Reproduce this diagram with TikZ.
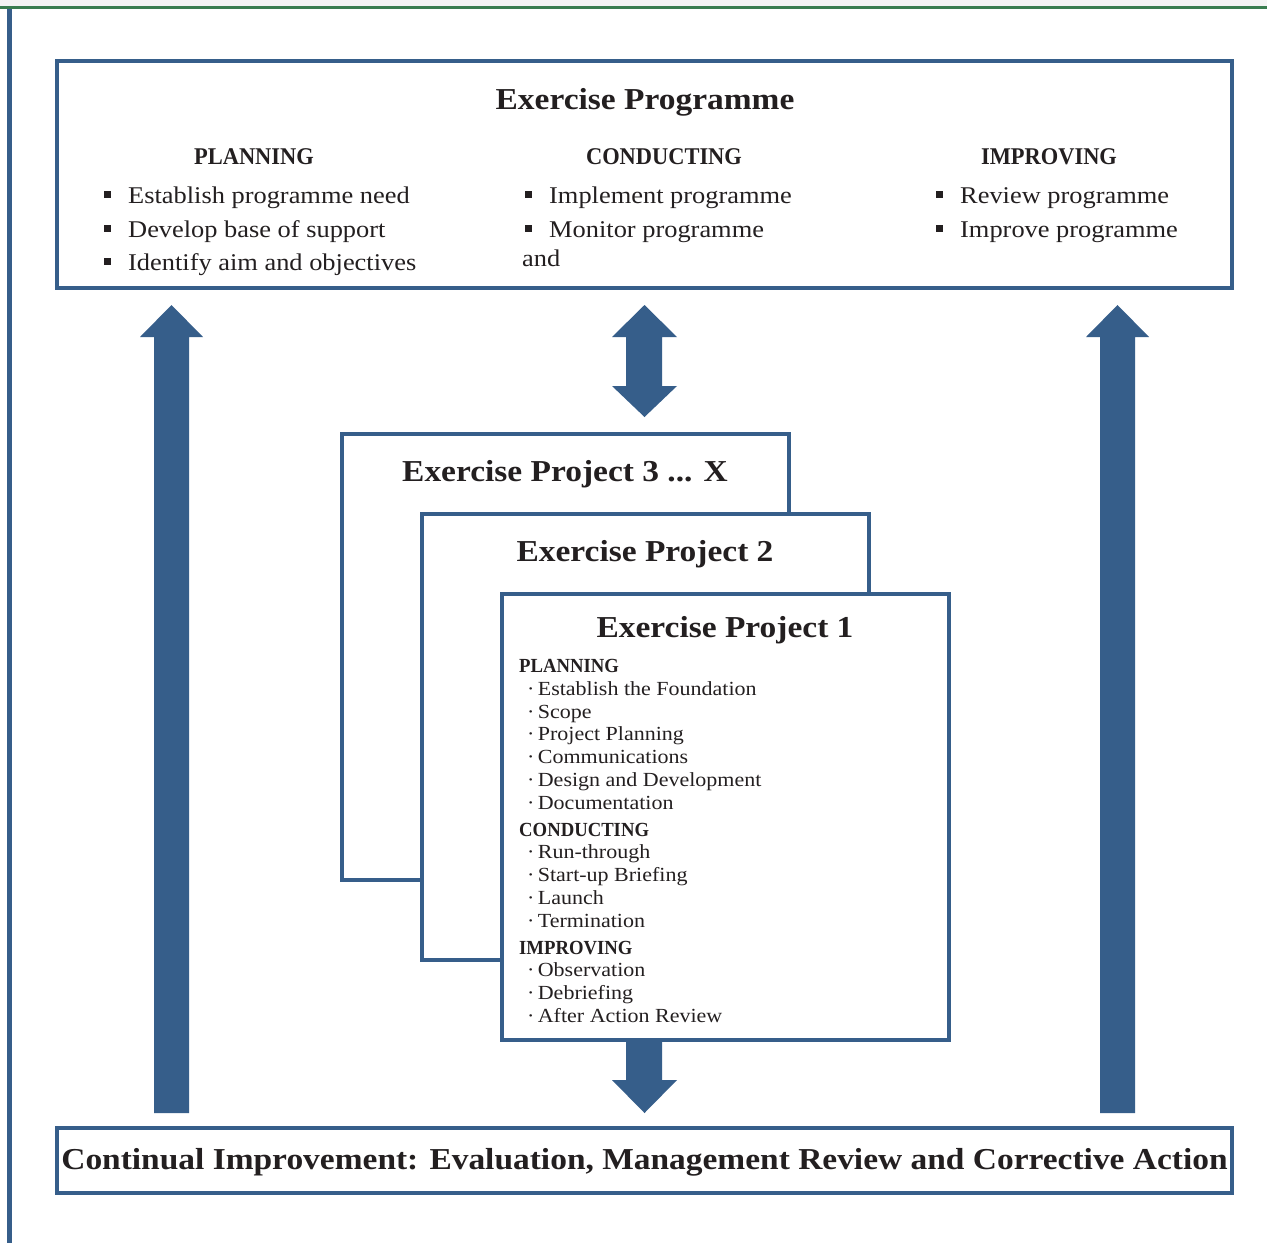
\documentclass[tikz,border=0pt]{standalone}
\usepackage{fontspec}
\usepackage{graphicx}
\setmainfont{Liberation Serif}[FakeStretch=1.1]
\definecolor{frame}{RGB}{54,94,138}
\definecolor{topgreen}{RGB}{58,125,80}
\definecolor{ink}{RGB}{35,31,32}
\definecolor{strip}{RGB}{244,244,244}
\newcommand{\bsq}{\rule[5.5pt]{7pt}{7pt}\hspace{17pt}}
\newcommand{\narrowcaps}[1]{\scalebox{0.85}[1]{#1}}
\begin{document}
\begin{tikzpicture}[x=1pt,y=-1pt,
  panel/.style={draw=frame, line width=4pt, fill=white, rectangle, inner sep=0pt},
  txt/.style={inner sep=0pt, anchor=base west, text=ink},
  bigtitle/.style={txt, anchor=base, font=\fontsize{30.4}{34}\selectfont\bfseries},
  colhead/.style={txt, anchor=base, font=\fontsize{24}{28}\selectfont\bfseries},
  item/.style={txt, font=\fontsize{24}{28}\selectfont},
  subhead/.style={txt, font=\fontsize{20}{24}\selectfont\bfseries},
  sub/.style={txt, font=\fontsize{20}{23}\selectfont},
  blockarrow/.style={fill=frame}
]
\useasboundingbox (0,0) rectangle (1267,1243);
\fill[white] (0,0) rectangle (1267,1243);
\fill[strip] (0,0) rectangle (1267,6);
\draw[topgreen, line width=3.3pt] (0,7.7) -- (1267,7.7);
\draw[frame, line width=4.5pt] (9.7,9.3) -- (9.7,1243);

% Programme box
\node[panel, minimum width=1175pt, minimum height=227pt] (prog) at (644.5,174.5) {};
\node[bigtitle] (progtitle) at (645,109) {Exercise Programme};
\node[colhead] (hplan) at (254,164.5) {\narrowcaps{PLANNING}};
\node[colhead] (hcond) at (664,164.5) {\narrowcaps{CONDUCTING}};
\node[colhead] (himp) at (1049,164.5) {\narrowcaps{IMPROVING}};
\node[item] (p1) at (104,203) {\bsq Establish programme need};
\node[item] (p2) at (104,237) {\bsq Develop base of support};
\node[item] (p3) at (104,270) {\bsq Identify aim and objectives};
\node[item] (c1) at (525,203) {\bsq Implement programme};
\node[item] (c2) at (525,237) {\bsq Monitor programme};
\node[item] (c3) at (522,266) {and};
\node[item] (i1) at (936,203) {\bsq Review programme};
\node[item] (i2) at (936,237) {\bsq Improve programme};

% Arrows
\fill[blockarrow] (154,1113) -- (154,337) -- (140,337) -- (171.5,305) -- (203,337) -- (189,337) -- (189,1113) -- cycle;
\fill[blockarrow] (1100,1113) -- (1100,337) -- (1086,337) -- (1117.5,305) -- (1149,337) -- (1135,337) -- (1135,1113) -- cycle;
\fill[blockarrow] (626,337) -- (612,337) -- (644.5,305) -- (677,337) -- (662,337) -- (662,386) -- (677,386) -- (644.5,417) -- (612,386) -- (626,386) -- cycle;
\fill[blockarrow] (626,1042) -- (662,1042) -- (662,1080) -- (677,1080) -- (644.5,1113) -- (612,1080) -- (626,1080) -- cycle;

% Project boxes
\node[panel, minimum width=447.5pt, minimum height=446pt] (proj3) at (565.25,657) {};
\node[bigtitle] (t3) at (565,481) {Exercise Project 3 ... X};
\node[panel, minimum width=447.5pt, minimum height=446pt] (proj2) at (645.25,737) {};
\node[bigtitle] (t2) at (645,561) {Exercise Project 2};
\node[panel, minimum width=447.5pt, minimum height=446pt] (proj1) at (725.25,817) {};
\node[bigtitle] (t1) at (725,637) {Exercise Project 1};

\node[subhead] (s1) at (519,672) {\narrowcaps{PLANNING}};
\node[sub] (s2) at (527,695.7) {·\,Establish the Foundation};
\node[sub] (s3) at (527,718.2) {·\,Scope};
\node[sub] (s4) at (527,740.7) {·\,Project Planning};
\node[sub] (s5) at (527,763.2) {·\,Communications};
\node[sub] (s6) at (527,786.2) {·\,Design and Development};
\node[sub] (s7) at (527,809) {·\,Documentation};
\node[subhead] (s8) at (519,836) {\narrowcaps{CONDUCTING}};
\node[sub] (s9) at (527,858.7) {·\,Run-through};
\node[sub] (s10) at (527,881.5) {·\,Start-up Briefing};
\node[sub] (s11) at (527,904.2) {·\,Launch};
\node[sub] (s12) at (527,927) {·\,Termination};
\node[subhead] (s13) at (519,954) {\narrowcaps{IMPROVING}};
\node[sub] (s14) at (527,976.7) {·\,Observation};
\node[sub] (s15) at (527,999.7) {·\,Debriefing};
\node[sub] (s16) at (527,1022.7) {·\,After Action Review};

% Bottom box
\node[panel, minimum width=1175pt, minimum height=65pt] (ci) at (644.5,1160.5) {};
\node[bigtitle] (citext) at (644.5,1169) {Continual Improvement: Evaluation, Management Review and Corrective Action};
\end{tikzpicture}
\end{document}
